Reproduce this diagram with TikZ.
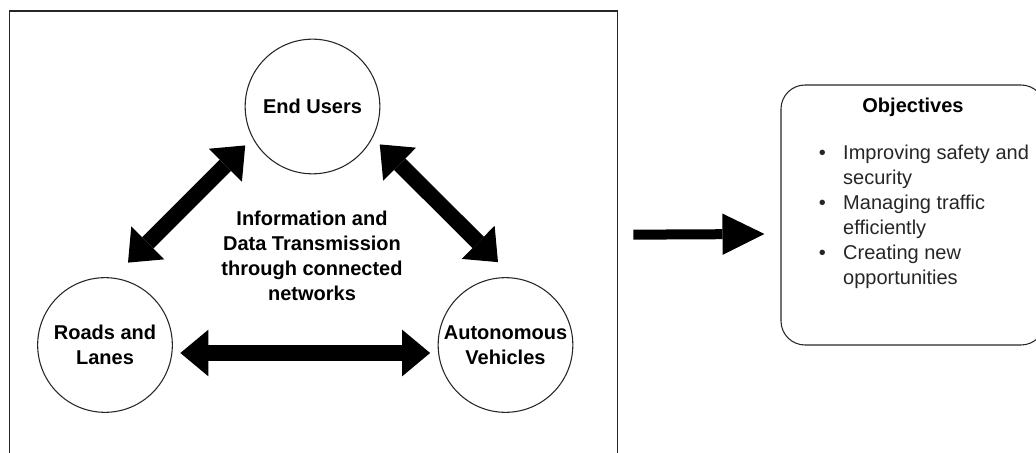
\documentclass[tikz,border=0pt]{standalone}
\usepackage{fontspec}
\setmainfont{Liberation Sans}
\usetikzlibrary{arrows.meta,positioning}

\begin{document}
\begin{tikzpicture}[
  x=0.75pt, y=-0.75pt,
  font=\fontsize{15pt}{18.75pt}\selectfont,
  frame/.style={draw=black!85, line width=1pt, anchor=north west, inner sep=0pt, minimum width=456pt, minimum height=336pt},
  actor/.style={circle, draw=black!85, line width=0.8pt, minimum size=101pt, inner sep=0pt, align=center, font=\fontsize{15pt}{18.75pt}\selectfont\bfseries},
  link/.style={line width=12pt, {Triangle[length=21pt, width=35pt, line width=0pt]}-{Triangle[length=21pt, width=35pt, line width=0pt]}},
  leadto/.style={line width=7.5pt, -{Triangle[length=31.5pt, width=31pt, line width=0pt]}},
  goalbox/.style={draw=black!85, line width=0.8pt, rounded corners=18pt, inner sep=0pt, minimum width=198pt, minimum height=195pt},
  note/.style={align=center, font=\fontsize{15pt}{18.75pt}\selectfont\bfseries}
]
\useasboundingbox (0,0) rectangle (1036,453);

\node[frame] (frame) at (8.5,10.5) {};

\node[actor] (eu) at (312.5,106.5) {End Users};
\node[actor] (rl) at (105,345) {Roads and\\Lanes};
\node[actor] (av) at (505.5,345) {Autonomous\\Vehicles};

\node[note] (info) at (312,256) {Information and\\Data Transmission\\through connected\\networks};

\draw[link] ([shift={(23,-14.5)}]rl.north) -- ([shift={(-8.5,5)}]eu.210);
\draw[link] ([shift={(8.5,4)}]eu.330) -- ([shift={(-7.5,-15)}]av.north);
\draw[link] ([shift={(7.5,8)}]rl.east) -- ([shift={(-7.5,8)}]av.west);

\node[goalbox] (obj) at (913,215) {};
\node[font=\fontsize{15pt}{18.75pt}\selectfont\bfseries] (objttl) at (913,107) {Objectives};
\node[anchor=base west, inner sep=0pt, text=black!85] (objlist) at (818.5,160)
  {\begin{tabular}[t]{@{}l@{\hspace{13.1pt}}l@{}}
   \textbullet & Improving safety and\\
               & security\\
   \textbullet & Managing traffic\\
               & efficiently\\
   \textbullet & Creating new\\
               & opportunities
   \end{tabular}};

\draw[leadto] ([shift={(15.5,-0.5)}]frame.east) -- ([shift={(-16,19)}]obj.west);

\end{tikzpicture}
\end{document}
